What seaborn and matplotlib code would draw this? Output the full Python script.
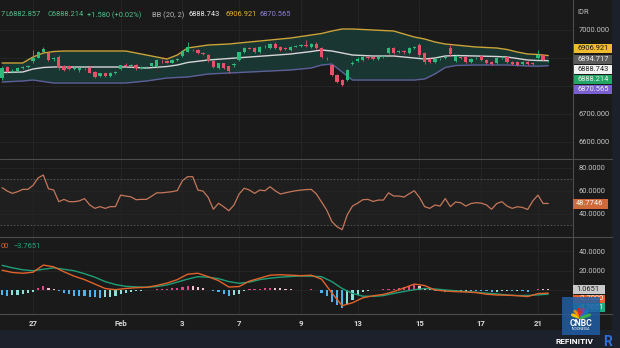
import matplotlib
matplotlib.use("Agg")
import matplotlib.pyplot as plt
import seaborn as sns
import numpy as np
from matplotlib.patches import Rectangle
from matplotlib.lines import Line2D

# ---------------- data ----------------
day_labels = ["27", "Feb", "3", "7", "9", "13", "15", "17", "21"]
day_label_idx = [6, 23, 35, 46, 58, 69, 81, 93, 104]

opens = [6827, 6866, 6850, 6852, 6861, 6867, 6886, 6900, 6918, 6916,
         6893, 6903, 6870, 6871, 6860, 6857, 6860, 6864, 6848, 6834,
         6843, 6834, 6845, 6859, 6872, 6870, 6873, 6861, 6865, 6868,
         6866, 6888, 6888, 6882, 6891, 6907, 6921, 6928, 6927, 6916,
         6909, 6887, 6862, 6879, 6868, 6872, 6891, 6920, 6934, 6934,
         6920, 6937, 6934, 6950, 6937, 6933, 6927, 6939, 6942, 6943,
         6937, 6950, 6934, 6900, 6873, 6837, 6820, 6820, 6877, 6887,
         6891, 6901, 6902, 6895, 6903, 6916, 6934, 6921, 6925, 6916,
         6935, 6945, 6916, 6895, 6884, 6894, 6898, 6934, 6887, 6902,
         6902, 6884, 6897, 6905, 6891, 6884, 6880, 6898, 6902, 6884,
         6884, 6877, 6884, 6882, 6898, 6909, 6886.634]
highs = [6870, 6870, 6858, 6866, 6870, 6874, 6928, 6925, 6937, 6920,
         6903, 6908, 6873, 6875, 6868, 6866, 6863, 6868, 6851, 6846,
         6846, 6847, 6852, 6875, 6882, 6876, 6877, 6868, 6870, 6882,
         6894, 6893, 6891, 6894, 6898, 6928, 6956, 6932, 6930, 6919,
         6912, 6890, 6882, 6882, 6870, 6882, 6921, 6938, 6938, 6937,
         6941, 6944, 6953, 6955, 6941, 6937, 6941, 6945, 6948, 6962,
         6953, 6955, 6937, 6903, 6876, 6840, 6823, 6858, 6887, 6902,
         6905, 6905, 6905, 6905, 6910, 6937, 6937, 6927, 6928, 6937,
         6941, 6951, 6920, 6898, 6898, 6900, 6905, 6944, 6909, 6905,
         6905, 6900, 6903, 6909, 6894, 6887, 6902, 6905, 6905, 6887,
         6887, 6887, 6887, 6885, 6927, 6912, 6891.2]
lows = [6820, 6845, 6846, 6849, 6858, 6864, 6882, 6897, 6915, 6887,
        6889, 6855, 6851, 6855, 6855, 6848, 6854, 6843, 6827, 6830,
        6831, 6831, 6842, 6855, 6866, 6866, 6857, 6858, 6862, 6865,
        6863, 6882, 6879, 6880, 6888, 6903, 6918, 6922, 6913, 6910,
        6884, 6862, 6858, 6860, 6844, 6866, 6887, 6917, 6929, 6917,
        6917, 6934, 6930, 6930, 6923, 6926, 6923, 6936, 6939, 6938,
        6934, 6930, 6898, 6891, 6833, 6808, 6798, 6816, 6873, 6884,
        6887, 6896, 6891, 6891, 6900, 6912, 6912, 6917, 6914, 6912,
        6932, 6902, 6877, 6880, 6880, 6890, 6895, 6905, 6884, 6896,
        6880, 6880, 6893, 6887, 6877, 6873, 6877, 6894, 6880, 6873,
        6870, 6873, 6873, 6873, 6895, 6887, 6882.857]
closes = [6862, 6848, 6852, 6862, 6866, 6870, 6898, 6920, 6932, 6891,
          6897, 6862, 6855, 6859, 6862, 6861, 6858, 6846, 6830, 6843,
          6834, 6843, 6848, 6872, 6870, 6872, 6861, 6865, 6866, 6879,
          6891, 6886, 6882, 6891, 6893, 6925, 6937, 6926, 6916, 6914,
          6887, 6866, 6879, 6864, 6852, 6877, 6918, 6934, 6932, 6920,
          6937, 6939, 6950, 6934, 6927, 6930, 6937, 6941, 6944, 6942,
          6950, 6934, 6902, 6897, 6837, 6812, 6802, 6855, 6880, 6896,
          6902, 6899, 6895, 6902, 6906, 6934, 6916, 6923, 6918, 6934,
          6937, 6909, 6884, 6884, 6895, 6896, 6902, 6912, 6905, 6900,
          6884, 6896, 6899, 6891, 6880, 6877, 6898, 6900, 6884, 6877,
          6873, 6884, 6877, 6877, 6909, 6891, 6888.214]

bb_idx = [0, 4, 6, 8, 10, 12, 16, 20, 24, 28, 32, 34, 36, 40, 44, 48, 52, 56,
          60, 62, 64, 66, 68, 72, 76, 80, 82, 84, 86, 88, 92, 96, 98, 100,
          102, 104, 106]
bb_upper = [6880.4, 6880.4, 6901.8, 6916.1, 6921.4, 6923.2, 6923.2, 6923.2,
            6923.2, 6908.9, 6894.6, 6908.9, 6933.9, 6944.6, 6948.2, 6955.4,
            6962.5, 6969.6, 6980.4, 6985.7, 6994.6, 7001.8, 7001.8, 6998.2,
            6994.6, 6973.2, 6966.1, 6955.4, 6948.2, 6944.6, 6937.5, 6933.9,
            6928.6, 6919.6, 6912.5, 6910.7, 6906.921]
bb_mid = [6846.4, 6848.2, 6858.9, 6864.3, 6866.1, 6866.1, 6866.1, 6866.1,
          6866.1, 6862.5, 6867.9, 6873.2, 6882.1, 6891.1, 6896.4, 6901.8,
          6907.1, 6912.5, 6921.4, 6926.8, 6923.2, 6916.1, 6908.9, 6905.4,
          6905.4, 6898.2, 6894.6, 6898.2, 6905.4, 6907.1, 6905.4, 6903.6,
          6901.8, 6896.4, 6891.1, 6889.3, 6888.743]
bb_lower = [6812.5, 6816.1, 6819.6, 6814.3, 6808.9, 6808.9, 6808.9, 6808.9,
            6808.9, 6816.1, 6826.8, 6828.6, 6830.4, 6841.1, 6844.6, 6848.2,
            6851.8, 6855.4, 6862.5, 6873.2, 6876.8, 6848.2, 6819.6, 6819.6,
            6819.6, 6819.6, 6823.2, 6841.1, 6864.3, 6871.4, 6873.2, 6873.2,
            6873.2, 6871.4, 6869.6, 6868.9, 6870.565]

rsi = [62.5, 59.5, 57.5, 59, 61, 61, 64.5, 71, 73.5, 61.5,
       60.5, 50.3, 52.3, 50.3, 50.3, 51, 53, 47.5, 44.5, 46,
       44.5, 46, 46, 56, 55.2, 54.5, 52, 52.3, 52.3, 55,
       58, 58, 58.5, 59, 60, 68.5, 72, 72, 60.4, 59.5,
       54, 43.7, 48.9, 45.9, 42.4, 47.4, 57, 62, 60.4, 57.5,
       60.4, 59.8, 63.3, 59.8, 57, 58, 59, 59.8, 60.4, 60.8,
       61, 57, 50, 43, 33, 28.5, 26, 39, 46.5, 49,
       52, 52.3, 50.5, 51.7, 51.7, 58, 55.2, 55.2, 54.3, 57.2,
       59.8, 54, 46, 44.5, 47.4, 46.5, 53, 46, 50, 49.4,
       46.5, 48.7, 49.4, 49, 47.5, 43.7, 48.7, 50.3, 46.5, 44.5,
       45.9, 45.3, 43.5, 51, 56, 48.7, 48.7746]

macd_idx = list(range(0, 107, 2))
macd = [20.5, 18.3, 17.5, 18.5, 25.8, 24, 19, 14.5, 11, 6.5,
        2, 0.8, 2, 2.8, 3.2, 5, 7.5, 11, 16.5, 17.5,
        14, 10, 3.5, 4, 9.5, 12.5, 15.5, 16, 15.5, 15,
        15.5, 11.5, -2.5, -15.5, -12.5, -7.5, -5.4, -4, -1.2, 2.5,
        6.5, 5, 0.5, -0.6, -1.2, -1.5, -2.2, -3.8, -4.6, -4.8,
        -5.3, -6.2, -3.2, -2.7]
signal = [25.5, 23, 21, 20, 21.5, 23, 21.5, 20, 17, 13.5,
          9, 6, 4.2, 3.6, 3.2, 4, 5.6, 8.5, 11.5, 14,
          13.5, 12, 9, 7.3, 8.5, 11, 12.5, 13.5, 14.2, 14.7,
          14.5, 14, 9, 2, -3, -5.8, -6, -5.2, -3, -1,
          0.8, 2, 1.5, 0.5, -0.3, -1.2, -1.8, -2.8, -3.5, -4.6,
          -5.2, -5.1, -4.5, -3.7651]
hist = [-5.0, -5.5, -4.7, -4.2, -3.5, -2.5, -1.5, 2.0, 4.3, 3.0,
        1.0, -0.5, -2.5, -4.0, -5.5, -5.8, -6.0, -6.5, -7.0, -7.2,
        -7.0, -6.5, -5.2, -3.5, -2.2, -1.5, -0.8, -0.4, 0.0, 0.5,
        1.0, 1.5, 1.9, 2.2, 2.5, 4.0, 5.0, 4.5, 3.5, 2.0,
        0.5, -1.0, -2.0, -4.0, -5.5, -4.5, -3.3, -1.0, 1.0, 1.2,
        1.5, 2.3, 3.0, 2.8, 2.5, 1.8, 1.3, 0.8, 0.3, 0.6,
        1.0, 0.0, -2.5, -5.5, -11.5, -15.0, -17.5, -14.0, -9.5, -5.0,
        -1.7, -0.5, 0.6, 0.9, 1.2, 1.8, 1.8, 2.5, 3.5, 4.5,
        5.7, 4.8, 3.0, 1.0, -1.0, -1.0, -1.1, -1.2, -0.9, -0.6,
        -0.3, -0.3, -0.4, -0.6, -1.0, -1.2, -1.1, -0.6, -0.2, -0.3,
        -0.1, -0.5, -1.1, 0.2, 1.3, 1.2, 1.0651]

price_ticks = [6600, 6700, 6800, 6900, 7000]
price_tick_labels = ["6600.000", "6700.000", "", "", "7000.000"]
rsi_ticks = [40, 60, 80]
rsi_tick_labels = ["40.0000", "60.0000", "80.0000"]
macd_ticks = [0, 20, 40]
macd_tick_labels = ["", "20.0000", "40.0000"]

# ---------------- style ----------------
W, H = 620, 348
BG = "#1a1a1a"
GRID = "#252525"
SEP = "#4d4d4d"
TXT = "#c4c4c4"
UP = "#2dbb7c"
DOWN = "#e8506a"

sns.set_theme(style="dark", rc={
    "axes.facecolor": BG, "figure.facecolor": BG,
    "grid.color": GRID, "axes.edgecolor": BG,
})
plt.rcParams["font.family"] = ["Roboto", "DejaVu Sans"]

fig = plt.figure(figsize=(W / 100, H / 100), dpi=100, facecolor=BG)


def px_axes(x0, y0, x1, y1):
    return fig.add_axes([x0 / W, 1 - y1 / H, (x1 - x0) / W, (y1 - y0) / H])


def ptext(x, y, s, **kw):
    kw.setdefault("fontsize", 5.4)
    kw.setdefault("va", "center")
    return fig.text(x / W, 1 - y / H, s, **kw)


def pbox(x0, x1, yc, h, s, fc, tc):
    fig.patches.append(Rectangle((x0 / W, 1 - (yc + h / 2) / H), (x1 - x0) / W, h / H,
                                 transform=fig.transFigure, fc=fc, ec="none", zorder=5))
    ptext(x0 + 3, yc, s, color=tc, zorder=6, fontsize=5.4)


ax_p = px_axes(0, 0, 573, 159)
ax_r = px_axes(0, 159, 573, 237)
ax_m = px_axes(0, 237, 573, 314)
XL = (-0.41, 110.8)

for ax in (ax_p, ax_r, ax_m):
    ax.set_facecolor(BG)
    ax.set_xlim(*XL)
    ax.set_xticks(day_label_idx)
    ax.grid(True, color=GRID, linewidth=0.7)
    for s in ax.spines.values():
        s.set_visible(False)
    ax.yaxis.tick_right()
    ax.tick_params(axis="y", length=0, pad=4, labelsize=5.4, labelcolor=TXT)
    ax.tick_params(axis="x", length=0)

# ---- price panel: Bollinger bands + candles ----
ax_p.set_ylim(6537.5, 7105.4)
ax_p.set_yticks(price_ticks, price_tick_labels)
ax_p.set_xticklabels([])
ax_p.fill_between(bb_idx, bb_lower, bb_upper, color="#1a3632", linewidth=0, zorder=1)
sns.lineplot(x=bb_idx, y=bb_upper, ax=ax_p, color="#c9a43a", linewidth=1.0, zorder=2)
sns.lineplot(x=bb_idx, y=bb_lower, ax=ax_p, color="#5d5f99", linewidth=1.0, zorder=2)
sns.lineplot(x=bb_idx, y=bb_mid, ax=ax_p, color="#d6d6d6", linewidth=1.0, zorder=2)

o = np.array(opens, float)
c = np.array(closes, float)
idx = np.arange(len(c))
cols = np.where(c >= o, UP, DOWN)
ax_p.vlines(idx, lows, highs, colors=cols, linewidth=0.6, zorder=3)
ax_p.bar(idx, np.maximum(np.abs(c - o), 1.6), bottom=np.minimum(o, c), width=0.64,
         color=cols, linewidth=0, zorder=4)
ax_p.set_xlabel("")
ax_p.set_ylabel("")

# ---- RSI panel ----
ax_r.set_ylim(19.6, 87.4)
ax_r.set_yticks(rsi_ticks, rsi_tick_labels)
ax_r.set_xticklabels([])
ax_r.axhspan(30, 70, color="#ffffff", alpha=0.022, linewidth=0, zorder=0)
for lvl in (30, 70):
    ax_r.axhline(lvl, color="#5a5a5a", linewidth=0.6, linestyle=(0, (2, 2)), zorder=1)
sns.lineplot(x=idx, y=rsi, ax=ax_r, color="#c5775a", linewidth=0.9, zorder=3)
ax_r.set_xlabel("")
ax_r.set_ylabel("")

# ---- MACD panel ----
ax_m.set_ylim(-23.9, 54.3)
ax_m.set_yticks(macd_ticks, macd_tick_labels)
hv = np.array(hist)
prev = np.concatenate([[hv[0]], hv[:-1]])
hcols = np.where(hv >= 0,
                 np.where(hv >= prev, "#e0468a", "#f0c2d4"),
                 np.where(hv <= prev, "#4fb3ee", "#8fe0da"))
ax_m.bar(idx, hv, width=0.42, color=hcols, linewidth=0, zorder=2)
sns.lineplot(x=macd_idx, y=signal, ax=ax_m, color="#1f9f78", linewidth=1.0, zorder=3)
sns.lineplot(x=macd_idx, y=macd, ax=ax_m, color="#e2622a", linewidth=1.0, zorder=4)
ax_m.set_xticks(day_label_idx, day_labels)
ax_m.tick_params(axis="x", labelsize=5.6, labelcolor="#d8d8d8", pad=4)
for lab in ax_m.get_xticklabels():
    lab.set_fontweight("semibold")
ax_m.set_xlabel("")
ax_m.set_ylabel("")

# ---- frame: separators, side strip, footer ----
for y in (159, 237, 314):
    fig.add_artist(Line2D([0, 612 / W], [1 - y / H, 1 - y / H], color=SEP,
                          linewidth=0.8, transform=fig.transFigure))
fig.add_artist(Line2D([573 / W, 573 / W], [1 - 330 / H, 1], color=SEP,
                      linewidth=0.8, transform=fig.transFigure))
fig.patches.append(Rectangle((612 / W, 1 - 330 / H), 8 / W, 330 / H,
                             transform=fig.transFigure, fc="#1c202b", ec="none"))
fig.patches.append(Rectangle((0, 0), 1, 18 / H, transform=fig.transFigure,
                             fc="#1d212b", ec="none"))

# ---- legends ----
LEG_G = "#4fbf89"
ptext(0.5, 15, "7", color=LEG_G)
ptext(5, 15, "L6882.857", color=LEG_G)
ptext(47, 15, "C6888.214", color=LEG_G)
ptext(87, 15, "+1.580 (+0.02%)", color=LEG_G)
ptext(152, 15, "BB (20, 2)", color="#b4b4b4")
ptext(189, 15, "6888.743", color="#f0f0f0")
ptext(225, 15, "6906.921", color="#e3b22f")
ptext(260, 15, "6870.565", color="#8c80d6")
ptext(577, 13, "IDR", color=TXT)

ptext(0.5, 247, "00", color="#e2622a")
ptext(13, 247, "\u22123.7651", color="#22a77f")

# ---- value tags on the scale ----
pbox(574, 612, 48.5, 9, "6906.921", "#f0bb2c", "#1a1a1a")
pbox(574, 612, 59.5, 9, "6894.717", "#5b5b5b", "#f0f0f0")
pbox(574, 612, 69.5, 9, "6888.743", "#f2f2f2", "#222222")
pbox(574, 612, 79.5, 9, "6888.214", "#22a565", "#f0f0f0")
pbox(574, 612, 89.5, 9, "6870.565", "#7a5fd0", "#f0f0f0")
pbox(573, 608, 204, 10, "48.7746", "#d06a3b", "#f5f5f5")
pbox(573, 605, 289.5, 9, "1.0651", "#c9c9c9", "#222222")
pbox(573, 605, 299, 9, "\u22122.7000", "#e8622c", "#f5f5f5")
pbox(573, 605, 307.5, 9, "\u22123.7651", "#1fab86", "#f5f5f5")

# ---- broadcaster mark and source ----
fig.patches.append(Rectangle((562 / W, 1 - 335 / H), 38 / W, 38 / H,
                             transform=fig.transFigure, fc="#1f5ea6", ec="none",
                             alpha=0.85, zorder=7))
feather = ["#f5c400", "#f08a00", "#e2231a", "#8b3f98", "#1a75bc", "#3eae49"]
for k, fc in enumerate(feather):
    ang = np.deg2rad(160 - k * 28)
    fig.add_artist(Line2D([581 / W, (581 + 9 * np.cos(ang)) / W],
                          [1 - 318 / H, 1 - (318 - 9 * np.sin(ang)) / H],
                          color=fc, linewidth=2.2, solid_capstyle="round",
                          transform=fig.transFigure, zorder=8))
ptext(581, 323, "CNBC", ha="center", color="white", fontsize=6.2,
      fontweight="bold", zorder=9)
ptext(581, 329, "INDONESIA", ha="center", color="white", fontsize=2.6, zorder=9)
ptext(575, 341, "REFINITIV", ha="center", color="white", fontsize=6,
      fontweight="bold", zorder=9)
ptext(603, 342, "R", ha="left", color="#2f6fd8", fontsize=10, fontweight="bold", zorder=9)

fig.savefig("out.png", dpi=100, facecolor=BG)
